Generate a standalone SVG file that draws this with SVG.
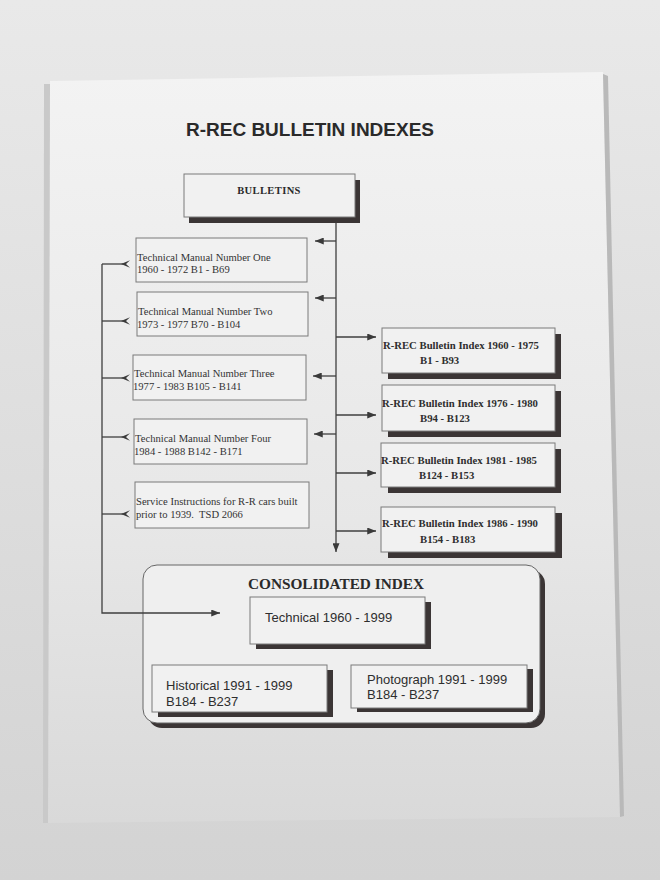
<svg xmlns="http://www.w3.org/2000/svg" width="660" height="880" viewBox="0 0 660 880">
<defs>
<linearGradient id="bg" x1="0" y1="0" x2="0" y2="1">
<stop offset="0" stop-color="#e9e9e9"/><stop offset="1" stop-color="#d3d3d3"/>
</linearGradient>
<linearGradient id="paper" x1="0" y1="0" x2="0" y2="1">
<stop offset="0" stop-color="#f3f3f3"/><stop offset="0.6" stop-color="#e7e7e7"/><stop offset="1" stop-color="#d9d9d9"/>
</linearGradient>
<marker id="tri" viewBox="0 0 10 8" refX="10" refY="4" markerWidth="9" markerHeight="7" markerUnits="userSpaceOnUse" orient="auto">
<path d="M0,0 L10,4 L0,8 z" fill="#3a3a3a"/>
</marker>
<marker id="chev" viewBox="0 0 9 9" refX="2" refY="4.5" markerWidth="9" markerHeight="9" markerUnits="userSpaceOnUse" orient="auto">
<path d="M0,4.5 L9,0.8 L5,4.5 L9,8.2 z" fill="#3a3a3a"/>
</marker>
</defs>
<style>
.box{fill:#f1f1f1;stroke:#7a7a7a;stroke-width:1}
.sh{fill:#3b3535}
.ln{fill:none;stroke:#3f3f3f;stroke-width:1.3}
.tm{font-family:"Liberation Serif","Times New Roman",serif;font-size:10.6px;fill:#333}
.ri{font-family:"Liberation Serif","Times New Roman",serif;font-size:10.7px;font-weight:bold;fill:#2e2e2e}
.sa{font-family:"Liberation Sans",Arial,sans-serif;font-size:13px;fill:#2e2e2e}
</style>
<rect x="0" y="0" width="660" height="880" fill="url(#bg)"/>
<polygon points="50,81 603,72 620,817 48,823" fill="url(#paper)"/>
<polygon points="44,84 50,84 48,823 43,823" fill="#c9c9c9"/>
<polygon points="603,74 608,76 624,816 620,817" fill="#b9b9b9"/>

<text x="310" y="136" text-anchor="middle" font-family="'Liberation Sans',Arial,sans-serif" font-size="19" font-weight="bold" fill="#2a2a2a">R-REC BULLETIN INDEXES</text>

<g id="bulletins">
<rect class="sh" x="189" y="180" width="171" height="43"/>
<rect class="box" x="184" y="174" width="171" height="43"/>
<text x="269" y="194" text-anchor="middle" font-family="'Liberation Serif','Times New Roman',serif" font-size="10.5" font-weight="bold" letter-spacing="0.4" fill="#2a2a2a">BULLETINS</text>
</g>

<g id="tm1">
<rect class="box" x="136" y="238" width="171" height="44"/>
<text class="tm" x="137" y="261">Technical Manual Number One</text>
<text class="tm" x="137" y="273">1960 - 1972 B1 - B69</text>
</g>
<g id="tm2">
<rect class="box" x="137" y="292" width="171" height="44"/>
<text class="tm" x="138" y="315">Technical Manual Number Two</text>
<text class="tm" x="137" y="328">1973 - 1977 B70 - B104</text>
</g>
<g id="tm3">
<rect class="box" x="133" y="355" width="173" height="45"/>
<text class="tm" x="134" y="377">Technical Manual Number Three</text>
<text class="tm" x="133" y="390">1977 - 1983 B105 - B141</text>
</g>
<g id="tm4">
<rect class="box" x="134" y="419" width="173" height="45"/>
<text class="tm" x="135" y="442">Technical Manual Number Four</text>
<text class="tm" x="134" y="455">1984 - 1988 B142 - B171</text>
</g>
<g id="service">
<rect class="box" x="135" y="482" width="174" height="46"/>
<text class="tm" x="136" y="505">Service Instructions for R-R cars built</text>
<text class="tm" x="136" y="518">prior to 1939.&#160; TSD 2066</text>
</g>

<g id="idx1">
<rect class="sh" x="388" y="334" width="173" height="45"/>
<rect class="box" x="382" y="328" width="173" height="45"/>
<text class="ri" x="383" y="349">R-REC Bulletin Index 1960 - 1975</text>
<text class="ri" x="420" y="364">B1 - B93</text>
</g>
<g id="idx2">
<rect class="sh" x="388" y="391" width="173" height="46"/>
<rect class="box" x="382" y="385" width="173" height="46"/>
<text class="ri" x="382" y="407">R-REC Bulletin Index 1976 - 1980</text>
<text class="ri" x="420" y="422">B94 - B123</text>
</g>
<g id="idx3">
<rect class="sh" x="388" y="449" width="173" height="44"/>
<rect class="box" x="381" y="443" width="174" height="44"/>
<text class="ri" x="381" y="464">R-REC Bulletin Index 1981 - 1985</text>
<text class="ri" x="419" y="479">B124 - B153</text>
</g>
<g id="idx4">
<rect class="sh" x="388" y="513" width="174" height="45"/>
<rect class="box" x="381" y="507" width="174" height="45"/>
<text class="ri" x="382" y="527">R-REC Bulletin Index 1986 - 1990</text>
<text class="ri" x="420" y="543">B154 - B183</text>
</g>

<g id="consolidated">
<rect class="sh" x="148" y="570" width="397" height="158" rx="14"/>
<rect x="143" y="565" width="397" height="158" rx="14" fill="#efefef" stroke="#666" stroke-width="1"/>
<text x="336" y="589" text-anchor="middle" font-family="'Liberation Serif','Times New Roman',serif" font-size="15.3" font-weight="bold" fill="#2a2a2a">CONSOLIDATED INDEX</text>
</g>
<g id="technical">
<rect class="sh" x="256" y="602" width="175" height="47"/>
<rect class="box" x="250" y="597" width="175" height="47"/>
<text class="sa" x="265" y="622">Technical 1960 - 1999</text>
</g>
<g id="historical">
<rect class="sh" x="158" y="670" width="175" height="47"/>
<rect class="box" x="152" y="665" width="175" height="47"/>
<text class="sa" x="166" y="690">Historical 1991 - 1999</text>
<text class="sa" x="166" y="706">B184 - B237</text>
</g>
<g id="photograph">
<rect class="sh" x="357" y="669" width="176" height="43"/>
<rect class="box" x="351" y="665" width="176" height="43"/>
<text class="sa" x="367" y="684">Photograph 1991 - 1999</text>
<text class="sa" x="367" y="699">B184 - B237</text>
</g>

<g id="connectors">
<path class="ln" d="M336,223 V552" marker-end="url(#tri)"/>
<path class="ln" d="M336,241 H315" marker-end="url(#tri)"/>
<path class="ln" d="M336,298 H315" marker-end="url(#tri)"/>
<path class="ln" d="M336,376 H313" marker-end="url(#tri)"/>
<path class="ln" d="M336,434 H314" marker-end="url(#tri)"/>
<path class="ln" d="M336,337 H376" marker-end="url(#tri)"/>
<path class="ln" d="M336,415 H376" marker-end="url(#tri)"/>
<path class="ln" d="M336,473 H376" marker-end="url(#tri)"/>
<path class="ln" d="M336,531 H376" marker-end="url(#tri)"/>
<path class="ln" d="M102,264 V613 H220" marker-end="url(#tri)"/>
<path class="ln" d="M102,264 H123" marker-end="url(#chev)"/>
<path class="ln" d="M102,321 H123" marker-end="url(#chev)"/>
<path class="ln" d="M102,378 H123" marker-end="url(#chev)"/>
<path class="ln" d="M102,437 H123" marker-end="url(#chev)"/>
<path class="ln" d="M102,514 H123" marker-end="url(#chev)"/>
</g>
</svg>
